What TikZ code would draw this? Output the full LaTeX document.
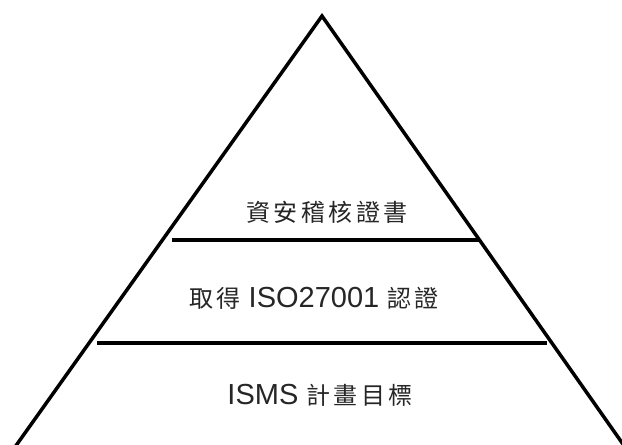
\documentclass[tikz,border=0pt]{standalone}
\usepackage{fontspec}
\setmainfont{Liberation Sans}
\newfontfamily\cjk[LetterSpace=14]{Noto Sans CJK TC}
\newcommand{\cj}[1]{{\cjk\fontsize{24}{28}\selectfont #1}}
\begin{document}
\begin{tikzpicture}[x=1pt,y=-1pt,
  edge/.style={line width=3.5pt,black},
  label/.style={font=\fontsize{29}{32}\selectfont,inner sep=0pt,anchor=center,text=black!85}]
\useasboundingbox (0,0) rectangle (622,445);
\clip (0,0) rectangle (622,445);
\coordinate (apex) at (322,16);
\coordinate (bl) at (15,447);
\coordinate (br) at (625,447);
\draw[edge,line join=miter] (bl) -- (apex) -- (br);
\coordinate (l1a) at (172,240);
\coordinate (l1b) at (480,240);
\coordinate (l2a) at (97,343);
\coordinate (l2b) at (547,343);
\draw[edge] (l1a) -- (l1b);
\draw[edge] (l2a) -- (l2b);
\node[label] (t1) at (327,212) {\cj{資安稽核證書}};
\node[label] (t2) at (314,298) {\cj{取得} ISO27001 \cj{認證}};
\node[label] (t3) at (320,395) {ISMS \cj{計畫目標}};
\end{tikzpicture}
\end{document}
